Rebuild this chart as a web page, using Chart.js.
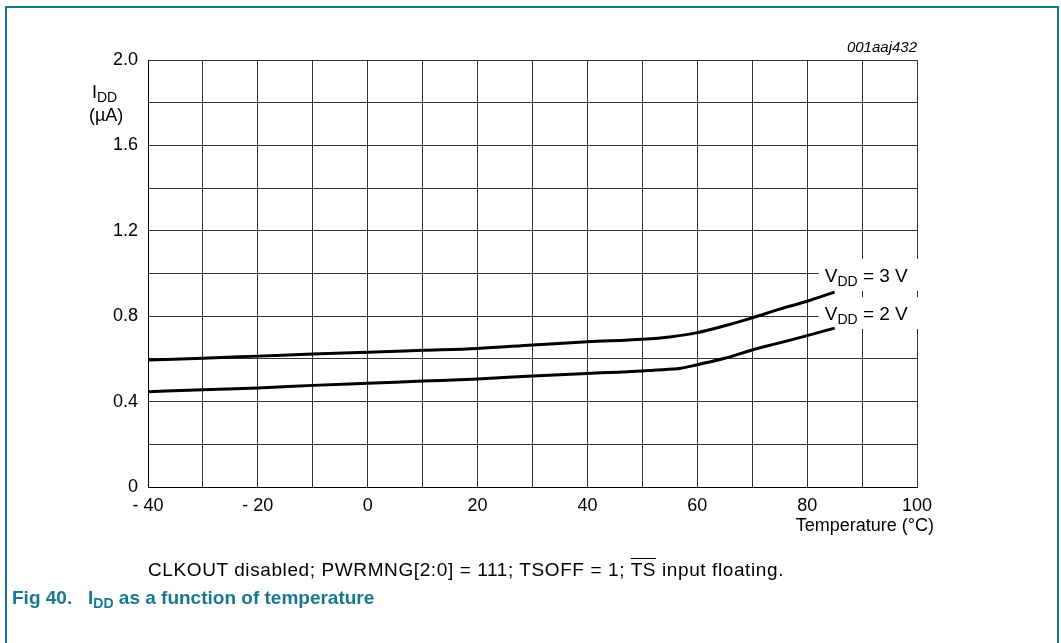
<!DOCTYPE html>
<html>
<head>
<meta charset="utf-8">
<script src="https://cdn.jsdelivr.net/npm/chart.js@4.4.0/dist/chart.umd.min.js"></script>
<style>
  html, body { margin: 0; padding: 0; background: #fff; }
  body { width: 1061px; height: 643px; position: relative; overflow: hidden; font-family: "Liberation Sans", Arial, sans-serif; }
  #frame { position: absolute; left: 5px; top: 6px; width: 1054px; height: 660px; border: 2px solid #17788f; box-sizing: border-box; }
  #wrap { position: absolute; left: 0; top: 0; width: 1061px; height: 643px; }
  #note { position: absolute; left: 148px; top: 559px; font-size: 19px; letter-spacing: 0.6px; color: #000; white-space: nowrap; }
  #note .ov { text-decoration: overline; }
  #fig { position: absolute; left: 12px; top: 587px; font-size: 19px; font-weight: bold; color: #17788f; white-space: nowrap;
         font-family: "Liberation Sans Narrow", "Arial Narrow", "Liberation Sans", Arial, sans-serif; }
  #fig sub { font-size: 14px; vertical-align: -4px; }
</style>
</head>
<body>
<div id="frame"></div>
<div id="wrap"><canvas id="c" width="1061" height="643"></canvas></div>
<div id="note">CLKOUT disabled; PWRMNG[2:0] = 111; TSOFF = 1; <span class="ov">TS</span> input floating.</div>
<div id="fig">Fig 40.&nbsp;&nbsp; I<sub>DD</sub> as a function of temperature</div>
<script>
// temperature (°C) sample points for each curve
const temp3V = [-40, -30, -20, -10, 0, 10, 20, 30, 40, 50, 55, 60, 65, 70, 75, 80, 85];
const idd3V  = [0.595, 0.603, 0.613, 0.623, 0.631, 0.640, 0.649, 0.665, 0.680, 0.692, 0.703, 0.723, 0.755, 0.792, 0.833, 0.870, 0.913];

const temp2V = [-40, -30, -20, -10, 0, 10, 20, 30, 40, 50, 52, 57, 60, 65, 70, 75, 80, 85];
const idd2V  = [0.446, 0.456, 0.464, 0.476, 0.486, 0.496, 0.506, 0.520, 0.532, 0.543, 0.547, 0.556, 0.573, 0.603, 0.642, 0.675, 0.709, 0.744];

// curve labels: anchor temperature / current for the text
const curveLabels = [
  { main: "V", sub: "DD", rest: " = 3 V", x: 83.2, y: 0.993 },
  { main: "V", sub: "DD", rest: " = 2 V", x: 83.2, y: 0.815 }
];

const xMin = -40, xMax = 100, xStep = 10;
const yMin = 0, yMax = 2.0, yStep = 0.2;

const FONT = '"Liberation Sans", Arial, sans-serif';

function toXY(xs, ys) {
  return xs.map((x, i) => ({ x, y: ys[i] }));
}

function drawSubText(ctx, x, y, main, sub, rest, size, subSize) {
  ctx.font = size + "px " + FONT;
  const wMain = ctx.measureText(main).width;
  ctx.font = subSize + "px " + FONT;
  const wSub = ctx.measureText(sub).width;
  ctx.textAlign = "left";
  ctx.textBaseline = "alphabetic";
  ctx.font = size + "px " + FONT;
  ctx.fillText(main, x, y);
  ctx.font = subSize + "px " + FONT;
  ctx.fillText(sub, x + wMain, y + 4);
  ctx.font = size + "px " + FONT;
  ctx.fillText(rest, x + wMain + wSub, y);
}

const annotations = {
  id: "annotations",
  beforeDatasetsDraw(chart) {
    // white patches behind the curve labels, hiding grid and border
    const { ctx, scales } = chart;
    ctx.save();
    ctx.fillStyle = "#fff";
    curveLabels.forEach((lb) => {
      const px = scales.x.getPixelForValue(lb.x);
      const py = scales.y.getPixelForValue(lb.y);
      ctx.fillRect(px - 6, py - 16, 100, 32);
    });
    ctx.restore();
  },
  afterDatasetsDraw(chart) {
    const { ctx, scales } = chart;
    ctx.save();
    ctx.fillStyle = "#000";

    curveLabels.forEach((lb) => {
      const px = scales.x.getPixelForValue(lb.x);
      const py = scales.y.getPixelForValue(lb.y);
      drawSubText(ctx, px, py + 7, lb.main, lb.sub, lb.rest, 19, 14);
    });

    // y-axis title
    drawSubText(ctx, 92, 98, "I", "DD", "", 18, 14);
    ctx.font = "18px " + FONT;
    ctx.textAlign = "left";
    ctx.fillText("(µA)", 89, 121);

    // x-axis title
    ctx.textAlign = "right";
    ctx.fillText("Temperature (°C)", 934, 531);

    // figure id
    ctx.font = "italic 15px " + FONT;
    ctx.fillText("001aaj432", chart.chartArea.right, 52);
    ctx.restore();
  }
};

const lineStyle = {
  borderColor: "#000",
  borderWidth: 3,
  pointRadius: 0,
  showLine: true,
  fill: false,
  tension: 0.3,
  cubicInterpolationMode: "monotone"
};

new Chart(document.getElementById("c"), {
  type: "scatter",
  data: {
    datasets: [
      Object.assign({ label: "VDD = 3 V", data: toXY(temp3V, idd3V) }, lineStyle),
      Object.assign({ label: "VDD = 2 V", data: toXY(temp2V, idd2V) }, lineStyle)
    ]
  },
  options: {
    responsive: false,
    animation: false,
    layout: { padding: { left: 88, right: 144, top: 60, bottom: 116 } },
    plugins: { legend: { display: false }, tooltip: { enabled: false } },
    scales: {
      x: {
        type: "linear",
        min: xMin,
        max: xMax,
        afterFit(scale) { scale.height = 40; },
        afterBuildTicks(scale) {
          const t = [];
          for (let v = xMin; v <= xMax; v += xStep) t.push({ value: v });
          scale.ticks = t;
        },
        grid: { color: "#333", lineWidth: 1, drawTicks: false },
        border: { color: "#000", width: 1 },
        ticks: {
          color: "#000",
          padding: 8,
          maxRotation: 0,
          autoSkip: false,
          font: { family: FONT, size: 18 },
          callback(v) {
            if (v % 20 !== 0) return "";
            return v < 0 ? "- " + Math.abs(v) : String(v);
          }
        }
      },
      y: {
        type: "linear",
        min: yMin,
        max: yMax,
        afterFit(scale) { scale.width = 60; },
        afterBuildTicks(scale) {
          const t = [];
          for (let i = 0; i <= 10; i++) t.push({ value: +(yMin + i * yStep).toFixed(1) });
          scale.ticks = t;
        },
        grid: { color: "#333", lineWidth: 1, drawTicks: false },
        border: { color: "#000", width: 1 },
        ticks: {
          color: "#000",
          padding: 10,
          autoSkip: false,
          font: { family: FONT, size: 18 },
          callback(v) {
            const k = Math.round(v * 10);
            if (k % 4 !== 0) return "";
            return k === 0 ? "0" : (k / 10).toFixed(1);
          }
        }
      }
    }
  },
  plugins: [annotations]
});
</script>
</body>
</html>
